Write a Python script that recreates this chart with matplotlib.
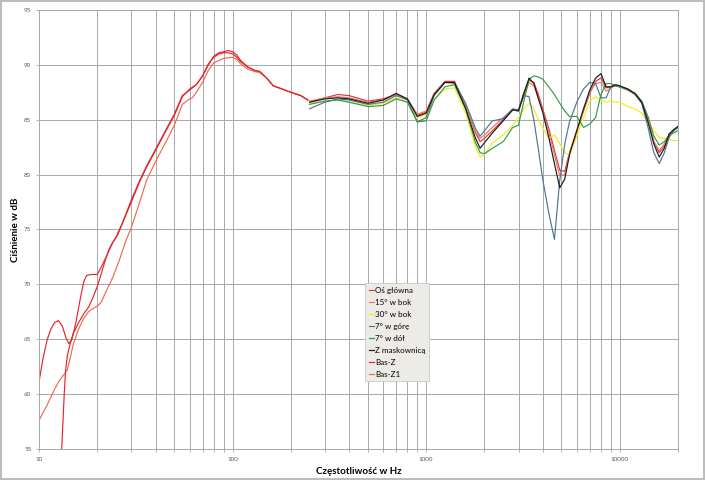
import numpy as np
import matplotlib
matplotlib.use("Agg")
import matplotlib.pyplot as plt
from matplotlib.ticker import FixedLocator, NullFormatter, LogLocator

plt.rcParams['font.family'] = ['Lato', 'DejaVu Sans']

# bass measurements (10 - 250 Hz)
bas_z_f = [10, 10.5, 11, 11.5, 12, 12.6, 13.2, 13.8, 14.3, 14.8, 15.5, 16.3, 17, 17.6, 18.5, 20,
           21, 22.5, 24, 25.5, 27, 30, 33, 36, 40, 45, 50, 55, 60, 65, 70, 75, 80, 85, 90, 95,
           100, 105, 110, 120, 130, 138, 150, 162, 180, 200, 225, 245]
bas_z_db = [61.1, 63.3, 64.9, 65.9, 66.5, 66.7, 66.2, 65.1, 64.6, 65.0, 66.5, 68.6, 70.2, 70.8, 70.9, 70.9,
            71.6, 72.7, 73.8, 74.5, 75.6, 77.7, 79.4, 80.8, 82.3, 84.0, 85.5, 87.2, 87.7, 88.2, 89.0, 90.0,
            90.8, 91.1, 91.2, 91.3, 91.2, 90.9, 90.4, 89.8, 89.5, 89.4, 88.8, 88.1, 87.8, 87.5, 87.2, 86.8]

bas_z1_f = [10, 11, 12, 12.8, 13.5, 14, 14.5, 15, 16, 17, 18, 19, 20, 21, 22, 24, 26, 28, 30, 33, 36,
            40, 45, 50, 55, 60, 62, 65, 70, 75, 80, 90, 100, 105, 110, 120, 130, 138, 150, 162, 180,
            200, 225, 245]
bas_z1_db = [57.6, 59.0, 60.4, 61.3, 61.8, 62.2, 63.3, 64.5, 65.9, 66.9, 67.5, 67.8, 68.0, 68.4, 69.2,
             70.6, 72.2, 73.9, 75.2, 77.4, 79.5, 81.2, 82.9, 84.5, 86.4, 86.9, 87.0, 87.5, 88.4, 89.5,
             90.2, 90.6, 90.7, 90.5, 90.1, 89.6, 89.4, 89.3, 88.8, 88.1, 87.8, 87.5, 87.2, 86.8]

bas_f = [13.1, 13.3, 13.5, 13.7, 14.0, 14.5, 15, 16, 17, 18, 19, 20, 21, 22, 23, 24, 25, 27, 30, 33,
         36, 40, 45, 50, 55, 60, 65, 70, 75, 80, 85, 90, 95, 100, 105, 110, 120, 130, 138, 150, 162,
         180, 200, 225, 245]
bas_db = [55.0, 57.5, 60.0, 62.0, 63.5, 64.6, 65.5, 66.5, 67.3, 67.9, 68.8, 69.8, 71.0, 72.2, 73.2,
          73.8, 74.3, 75.6, 77.5, 79.3, 80.7, 82.2, 83.9, 85.4, 87.1, 87.8, 88.2, 89.0, 90.1, 90.7,
          91.0, 91.1, 91.1, 91.0, 90.7, 90.3, 89.8, 89.5, 89.4, 88.8, 88.1, 87.8, 87.5, 87.2, 86.8]

# speaker measurements (250 Hz - 20 kHz)
freq = [250, 300, 350, 400, 500, 600, 700, 800, 900, 1000, 1100, 1250, 1400, 1600, 1800, 1900,
        2000, 2200, 2500, 2800, 3000, 3200, 3400, 3600, 3800, 4000, 4300, 4600, 4900, 5200, 5500,
        6000, 6500, 7000, 7500, 8000, 8500, 9000, 9500, 10000, 11000, 12000, 13000, 14000, 15000,
        16000, 17000, 18000, 19000, 20000]

os_glowna = [86.6, 87.0, 87.3, 87.2, 86.7, 86.9, 87.3, 86.9, 85.4, 85.7, 87.4, 88.5, 88.5, 86.3,
             83.8, 83.0, 83.3, 84.0, 85.0, 85.9, 85.9, 87.5, 88.6, 88.4, 87.3, 86.0, 84.2, 82.2,
             80.4, 80.3, 82.0, 84.0, 85.8, 87.4, 88.5, 88.8, 87.9, 88.0, 88.1, 88.0, 87.7, 87.3,
             86.6, 85.0, 83.0, 82.0, 82.6, 83.6, 84.0, 84.3]
bok_15 = [86.7, 87.0, 87.1, 87.0, 86.6, 86.8, 87.3, 86.9, 85.5, 85.8, 87.4, 88.4, 88.3, 86.2, 83.9,
          83.3, 83.6, 84.3, 85.2, 85.9, 85.8, 87.2, 88.4, 88.1, 87.0, 85.8, 83.9, 81.8, 79.9, 80.0,
          81.9, 83.9, 85.9, 87.5, 88.3, 88.4, 87.6, 87.9, 88.1, 88.0, 87.7, 87.3, 86.5, 84.9, 83.0,
          82.2, 82.8, 83.7, 84.1, 84.3]
bok_30 = [86.5, 86.7, 86.8, 86.6, 86.3, 86.5, 87.0, 86.6, 85.2, 85.4, 86.8, 87.8, 87.9, 85.6, 82.5,
          81.6, 81.8, 82.9, 83.6, 84.5, 85.2, 86.0, 86.5, 86.0, 85.0, 84.3, 83.3, 83.6, 82.8, 82.0,
          81.8, 83.5, 85.2, 86.7, 87.1, 86.8, 86.6, 86.7, 86.6, 86.6, 86.2, 86.0, 85.6, 84.8, 84.0,
          83.4, 83.3, 83.2, 83.1, 83.1]
gora_7 = [86.0, 86.6, 86.9, 86.8, 86.4, 86.6, 87.2, 86.8, 84.8, 85.2, 87.2, 88.4, 88.4, 86.5, 84.2,
          83.5, 84.0, 84.9, 85.1, 86.0, 85.9, 87.2, 87.1, 85.0, 82.3, 79.6, 76.5, 74.1, 79.5, 82.8,
          84.8, 86.6, 87.8, 88.4, 88.3, 87.0, 87.0, 88.0, 88.1, 88.0, 87.8, 87.3, 86.5, 84.3, 82.0,
          81.0, 82.0, 83.4, 84.0, 84.3]
dol_7 = [86.4, 86.7, 86.8, 86.6, 86.2, 86.3, 86.9, 86.6, 84.8, 84.9, 86.8, 88.0, 88.2, 86.0, 82.9,
         82.0, 81.9, 82.4, 83.0, 84.3, 84.5, 86.7, 88.7, 89.0, 88.9, 88.7, 88.0, 87.3, 86.5, 85.8,
         85.3, 85.3, 84.3, 84.6, 85.2, 87.3, 88.3, 88.3, 88.1, 88.0, 87.8, 87.4, 86.7, 85.3, 83.5,
         82.7, 83.0, 83.6, 83.8, 84.0]
maskownica = [86.6, 86.9, 87.0, 86.9, 86.5, 86.8, 87.4, 86.9, 85.3, 85.6, 87.3, 88.4, 88.4, 86.0,
              83.3, 82.4, 82.9, 83.8, 84.9, 85.9, 85.8, 87.4, 88.8, 88.3, 86.9, 85.7, 83.4, 81.0,
              78.8, 79.6, 81.8, 84.0, 86.0, 87.7, 88.8, 89.2, 88.0, 88.0, 88.2, 88.1, 87.8, 87.4,
              86.6, 84.8, 82.8, 81.6, 82.4, 83.7, 84.1, 84.4]

fig = plt.figure(figsize=(7.05, 4.80), dpi=100)
fig.patch.set_edgecolor('#BDBDBD')
fig.patch.set_linewidth(1.5)
ax = fig.add_axes([39/705, 1-449/480, (678-39)/705, (449-10)/480])

lw = 0.85
ax.plot(freq, os_glowna, color='#E3342F', lw=lw, label='Oś główna')
ax.plot(freq, bok_15, color='#E8786E', lw=lw, label='15° w bok')
ax.plot(freq, bok_30, color='#F2EC1C', lw=lw, label='30° w bok')
ax.plot(freq, gora_7, color='#4F7592', lw=lw, label='7° w górę')
ax.plot(freq, dol_7, color='#2E9E45', lw=lw, label='7° w dół')
ax.plot(freq, maskownica, color='#1A1A1A', lw=lw, label='Z maskownicą')
ax.plot(bas_z_f, bas_z_db, color='#E3262A', lw=lw, label='Bas-Z')
ax.plot(bas_z1_f, bas_z1_db, color='#EE6A52', lw=lw, label='Bas-Z1')
ax.plot(bas_f, bas_db, color='#E3262A', lw=lw, label='_nolegend_')

ax.set_xscale('log')
ax.set_xlim(10, 20000)
ax.set_ylim(55, 95)
ax.xaxis.set_major_locator(FixedLocator([10, 100, 1000, 10000]))
ax.set_xticklabels(['10', '100', '1000', '10000'])
ax.xaxis.set_minor_locator(LogLocator(base=10, subs=np.arange(2, 10)))
ax.xaxis.set_minor_formatter(NullFormatter())
ax.set_yticks(np.arange(55, 96, 5))

ax.grid(True, which='both', axis='x', color='#A8A8A8', lw=0.7)
ax.grid(True, which='major', axis='y', color='#A8A8A8', lw=0.7)
ax.set_axisbelow(True)
for s in ax.spines.values():
    s.set_color('#A8A8A8')
    s.set_linewidth(0.7)
ax.tick_params(which='both', colors='#A8A8A8', labelcolor='#595959', labelsize=4.5, length=2, width=0.6)

ax.set_xlabel('Częstotliwość w Hz', fontsize=7, fontweight='bold', labelpad=4)
ax.set_ylabel('Ciśnienie w dB', fontsize=7, fontweight='bold', labelpad=3)

leg = ax.legend(loc='upper left', bbox_to_anchor=(0.51, 0.378), fontsize=5.8,
                handlelength=0.7, handletextpad=0.1, labelspacing=0.62,
                fancybox=False, framealpha=1, borderpad=0.45, borderaxespad=0)
leg.get_frame().set_facecolor('#EDEBE5')
leg.get_frame().set_edgecolor('#C8C8C8')
leg.get_frame().set_linewidth(0.6)

fig.savefig('out.png', dpi=100, edgecolor=fig.get_edgecolor())
